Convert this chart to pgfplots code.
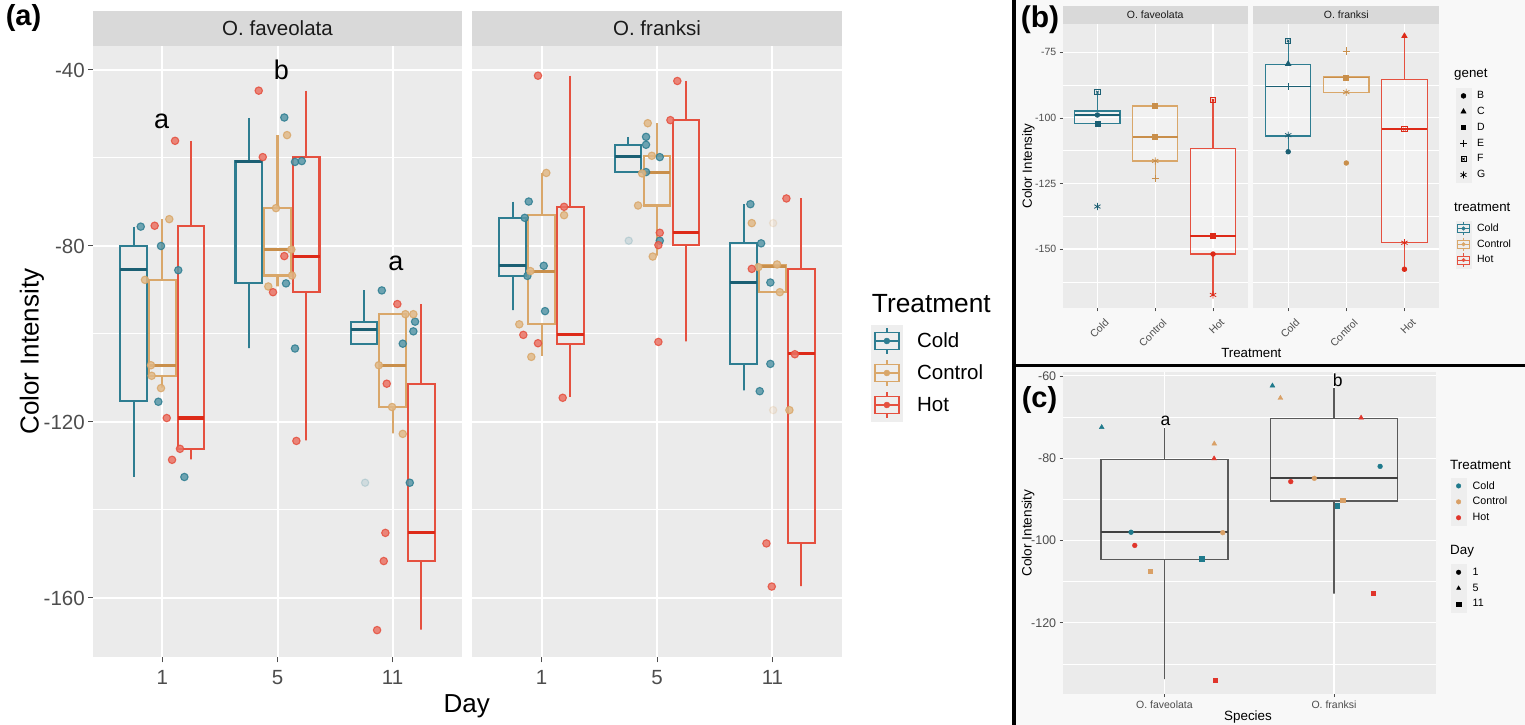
\documentclass[border=0pt]{standalone}
\usepackage{pgfplots}
\pgfplotsset{compat=1.18}
\usepackage{fontspec}
\setmainfont{Liberation Sans}
\newcommand{\fs}[1]{\fontsize{#1}{#1}\selectfont}

\definecolor{cold}{HTML}{2E7D91}
\definecolor{colddk}{HTML}{1B5F73}
\definecolor{ctrl}{HTML}{D9A76A}
\definecolor{ctrldk}{HTML}{C98F4B}
\definecolor{hot}{HTML}{E5503F}
\definecolor{hotdk}{HTML}{DD2A18}
\definecolor{pbg}{HTML}{EBEBEB}
\definecolor{strip}{HTML}{D9D9D9}
\definecolor{stext}{HTML}{1A1A1A}
\definecolor{tickc}{HTML}{4D4D4D}
\definecolor{keybg}{HTML}{EEEEEE}
\definecolor{rbg}{HTML}{F8F8F8}
\definecolor{boxc}{HTML}{595959}
\definecolor{ccold}{HTML}{1F7A8C}
\definecolor{cctrl}{HTML}{D9A066}
\definecolor{chot}{HTML}{E0352B}

\pgfplotsset{
  gg/.style={scale only axis, anchor=south west, axis background/.style={fill=pbg},
    axis line style={draw=none}, tick pos=left, tick align=outside,
    minor tick length=0pt,
    xmajorgrids=true, ymajorgrids=true, yminorgrids=true,
    tick label style={text=tickc},
    /pgf/number format/assume math mode=true, clip=true},
  coldA/.style={draw=cold, line width=2.1pt, line join=miter},
  coldAm/.style={draw=colddk, line width=3.1pt},
  ctrlA/.style={draw=ctrl, line width=2.1pt, line join=miter},
  ctrlAm/.style={draw=ctrldk, line width=3.1pt},
  hotA/.style={draw=hot, line width=2.1pt, line join=miter},
  hotAm/.style={draw=hotdk, line width=3.1pt},
  coldB/.style={draw=cold, line width=1.2pt, line join=miter, fill=white, fill opacity=0.3},
  coldBm/.style={draw=colddk, line width=1.8pt},
  ctrlB/.style={draw=ctrl, line width=1.2pt, line join=miter, fill=white, fill opacity=0.3},
  ctrlBm/.style={draw=ctrldk, line width=1.8pt},
  hotB/.style={draw=hot, line width=1.2pt, line join=miter, fill=white, fill opacity=0.3},
  hotBm/.style={draw=hotdk, line width=1.8pt},
  grC/.style={draw=boxc, line width=1.4pt, line join=miter},
  grCm/.style={draw=black!75, line width=2pt},
  ptA/.style={forget plot, only marks, mark=*, mark size=3.7pt, mark options={draw=#1, fill=#1!80!white, line width=1.1pt}, opacity=0.85},
  ptF/.style={forget plot, only marks, mark=*, mark size=3.7pt, mark options={draw=#1, fill=#1!80!white, line width=1.1pt}, opacity=0.18},
  pb/.style 2 args={forget plot, only marks, mark=#1, color=#2, mark size=2.5pt, mark options={solid, line width=0.8pt}},
  pc/.style 2 args={forget plot, only marks, mark=#1, color=#2, mark size=2.4pt},
  lg/.style 2 args={legend style={at={#1}, anchor=north west, draw=none, fill=none, inner sep=0pt, outer sep=0pt, row sep=0pt, column sep=#2, nodes={inner sep=0pt, text=black}}, legend cell align=left},
  keyA/.style={legend image code/.code={\fill[keybg] (0pt,-15.8pt) rectangle (31.3pt,15.8pt);
     \draw[line width=1.6pt] (15.65pt,8.35pt) -- (15.65pt,12.8pt) (15.65pt,-8.35pt) -- (15.65pt,-12.8pt);
     \draw[line width=1.6pt] (3.65pt,-8.35pt) rectangle (27.65pt,8.35pt) (3.65pt,0pt) -- (27.65pt,0pt);
     \fill (15.65pt,0pt) circle (3pt);}},
  keyB/.style={legend image code/.code={\fill[keybg] (0pt,-7.7pt) rectangle (15.4pt,7.7pt);
     \draw[line width=0.8pt] (7.7pt,4pt) -- (7.7pt,6.6pt) (7.7pt,-4pt) -- (7.7pt,-6.6pt);
     \draw[line width=0.8pt] (2pt,-4pt) rectangle (13.4pt,4pt) (2pt,0pt) -- (13.4pt,0pt);
     \fill (7.7pt,0pt) circle (1.8pt);}},
  keyM/.style 2 args={legend image code/.code={\fill[keybg] (0pt,-7.7pt) rectangle (15.4pt,7.7pt);
     \draw[black, fill=black, line width=0.8pt] plot[only marks, mark=#1, mark size=#2] coordinates {(7.7pt,0pt)};}},
  keyF/.style={legend image code/.code={\fill[keybg] (0pt,-7.7pt) rectangle (15.4pt,7.7pt);
     \draw[black, line width=0.8pt] plot[only marks, mark=square, mark size=2.6pt] coordinates {(7.7pt,0pt)};
     \draw[black, line width=0.8pt] plot[only marks, mark=x, mark size=1.8pt] coordinates {(7.7pt,0pt)};}},
  keyC/.style 2 args={legend image code/.code={\fill[keybg] (0pt,-7.75pt) rectangle (15.5pt,7.75pt);
     \fill[#2] plot[only marks, mark=#1, mark size=2.3pt] coordinates {(7.75pt,0pt)};}},
}
% box with whiskers as one path: x0, centre, x1, lower whisker, q1, median, q3, upper whisker, style
\newcommand{\bx}[9]{%
  \addplot[forget plot, #9] coordinates {(#2,#8) (#2,#7) (#3,#7) (#3,#5) (#2,#5) (#2,#4) (#2,#5) (#1,#5) (#1,#7) (#2,#7)};
  \addplot[forget plot, #9m] coordinates {(#1,#6) (#3,#6)};}

\begin{document}
\begin{tikzpicture}
\useasboundingbox (0pt,0pt) rectangle (1525pt,-725pt);
\fill[white] (0pt,0pt) rectangle (1525pt,-725pt);
\fill[rbg] (1015pt,0pt) rectangle (1525pt,-725pt);

% ---------------- panel (a) ----------------
\fill[strip] (93.3pt,-11pt) rectangle (461.7pt,-46pt);
\fill[strip] (472.3pt,-11pt) rectangle (841.7pt,-46pt);
\node[font=\fs{20.5}, text=stext] at (277.5pt,-28.5pt) {O. faveolata};
\node[font=\fs{20.5}, text=stext] at (657pt,-28.5pt) {O. franksi};

\begin{axis}[gg, at={(93.3pt,-657.3pt)}, width=368.4pt, height=611.3pt,
  xmin=0.4, xmax=3.6, ymin=-173.48, ymax=-34.55,
  xtick={1,2,3}, xticklabels={1,5,11},
  ytick={-160,-120,-80,-40}, yticklabels={-160,-120,-80,-40},
  minor ytick={-140,-100,-60},
  major tick length=5pt, tick style={tickc, line width=1pt},
  major grid style={white, line width=2pt}, minor grid style={white, line width=1pt},
  tick label style={font=\fs{20.5}}, xticklabel style={yshift=-5pt}]
\bx{0.635}{0.75}{0.865}{-132.5}{-115.2}{-85.4}{-80}{-75.6}{coldA}
\bx{0.885}{1}{1.115}{-112.2}{-109.5}{-107.1}{-87.7}{-73.9}{ctrlA}
\bx{1.135}{1.25}{1.365}{-128.5}{-126.1}{-119.1}{-75.4}{-56.1}{hotA}
\bx{1.635}{1.75}{1.865}{-103.2}{-88.5}{-60.8}{-60.7}{-50.9}{coldA}
\bx{1.885}{2}{2.115}{-89.2}{-86.7}{-80.8}{-71.4}{-54.8}{ctrlA}
\bx{2.135}{2.25}{2.365}{-124.2}{-90.4}{-82.3}{-59.8}{-44.7}{hotA}
\bx{2.635}{2.75}{2.865}{-102.2}{-102.2}{-99.0}{-97.2}{-90.1}{coldA}
\bx{2.885}{3}{3.115}{-122.6}{-116.6}{-107.1}{-95.5}{-95.5}{ctrlA}
\bx{3.135}{3.25}{3.365}{-167.2}{-151.5}{-145.1}{-111.4}{-93.2}{hotA}
\addplot[ptA=cold] coordinates {(0.812,-75.6) (0.988,-80) (1.138,-85.5) (0.965,-115.4) (1.191,-132.5) (2.059,-50.8) (2.152,-60.9) (2.211,-60.7) (2.074,-88.5) (2.152,-103.3) (2.906,-90.1) (3.195,-97.2) (3.180,-99.4) (3.088,-102.2) (3.149,-133.8)};
\addplot[ptF=cold] coordinates {(2.761,-133.8)};
\addplot[ptA=ctrl] coordinates {(1.060,-73.9) (0.849,-87.7) (0.901,-107.1) (0.907,-109.5) (0.988,-112.3) (2.083,-54.8) (1.987,-71.4) (2.120,-80.8) (2.126,-86.7) (1.920,-89.2) (3.111,-95.5) (3.180,-95.5) (2.880,-107.1) (2.995,-116.6) (3.088,-122.7)};
\addplot[ptA=hot] coordinates {(1.110,-56.1) (0.933,-75.4) (1.038,-119.1) (1.153,-126.1) (1.084,-128.6) (1.837,-44.7) (1.872,-59.8) (2.059,-82.3) (1.961,-90.5) (2.164,-124.3) (3.041,-93.2) (2.949,-111.3) (2.937,-145.2) (2.923,-151.6) (2.865,-167.3)};
\end{axis}

\begin{axis}[gg, at={(472.3pt,-657.3pt)}, width=369.4pt, height=611.3pt,
  xmin=0.4, xmax=3.6, ymin=-173.48, ymax=-34.55,
  xtick={1,2,3}, xticklabels={1,5,11},
  ytick={-160,-120,-80,-40}, yticklabels={}, ytick style={draw=none},
  minor ytick={-140,-100,-60},
  major tick length=5pt, tick style={tickc, line width=1pt},
  major grid style={white, line width=2pt}, minor grid style={white, line width=1pt},
  tick label style={font=\fs{20.5}}, xticklabel style={yshift=-5pt},
  lg={(1.0793,0.5436)}{14.4pt}, legend style={font=\fs{20.5}}]
\bx{0.635}{0.75}{0.865}{-94.6}{-86.8}{-84.5}{-73.6}{-69.9}{coldA}
\bx{0.885}{1}{1.115}{-105}{-97.8}{-85.7}{-73}{-63.4}{ctrlA}
\bx{1.135}{1.25}{1.365}{-114.3}{-102.3}{-100.1}{-71.1}{-41.3}{hotA}
\bx{1.635}{1.75}{1.865}{-63.2}{-63.2}{-59.6}{-57}{-55.2}{coldA}
\bx{1.885}{2}{2.115}{-82.2}{-70.8}{-63.3}{-59.5}{-52.1}{ctrlA}
\bx{2.135}{2.25}{2.365}{-101.7}{-79.7}{-76.9}{-51.4}{-42.5}{hotA}
\bx{2.635}{2.75}{2.865}{-112.8}{-106.8}{-88.2}{-79.4}{-70.5}{coldA}
\bx{2.885}{3}{3.115}{-90.5}{-90.5}{-84.6}{-84.3}{-84.3}{ctrlA}
\bx{3.135}{3.25}{3.365}{-157.3}{-147.6}{-104.5}{-85.2}{-69.2}{hotA}
\addplot[ptA=cold] coordinates {(0.889,-69.9) (0.854,-73.6) (1.019,-84.5) (0.877,-86.8) (1.030,-94.8) (1.905,-55.2) (1.905,-57) (2.024,-59.8) (1.905,-63.2) (2.024,-78.8) (2.809,-70.5) (2.902,-79.4) (2.982,-88.3) (2.982,-106.8) (2.890,-113)};
\addplot[ptF=cold] coordinates {(1.755,-78.8)};
\addplot[ptA=ctrl] coordinates {(1.041,-63.4) (1.195,-73) (0.903,-85.7) (0.807,-97.8) (0.911,-105.2) (1.920,-52.1) (1.955,-59.5) (1.871,-63.5) (1.836,-70.8) (1.963,-82.4) (2.821,-74.8) (3.040,-84.2) (2.878,-84.8) (3.064,-90.5) (3.147,-117.3)};
\addplot[ptF=ctrl] coordinates {(3.006,-74.8) (3.006,-117.3)};
\addplot[ptA=hot] coordinates {(0.969,-41.3) (1.195,-71.1) (0.842,-100.2) (0.969,-102.1) (1.183,-114.5) (2.176,-42.5) (2.116,-51.4) (2.024,-77) (2.012,-79.8) (2.012,-101.8) (3.121,-69.2) (2.821,-85.2) (3.194,-104.6) (2.948,-147.6) (2.994,-157.4)};
\addlegendimage{cold, keyA}\addlegendentry{Cold}
\addlegendimage{ctrl, keyA}\addlegendentry{Control}
\addlegendimage{hot, keyA}\addlegendentry{Hot}
\end{axis}

\node[rotate=90, font=\fs{26}] at (32pt,-351.6pt) {Color Intensity};
\node[font=\fs{26}] at (466.7pt,-706.7pt) {Day};
\node[font=\fs{29}\bfseries] at (23.5pt,-18.5pt) {(a)};
\node[font=\fs{27}] at (161.7pt,-121.7pt) {a};
\node[font=\fs{27}] at (281.5pt,-70pt) {b};
\node[font=\fs{27}] at (396pt,-263.3pt) {a};
\node[anchor=west, inner sep=0pt, font=\fs{26.3}] at (871.7pt,-303.3pt) {Treatment};

% ---------------- panel (b) ----------------
\fill[strip] (1062.7pt,-5.7pt) rectangle (1247.7pt,-24pt);
\fill[strip] (1253.3pt,-5.7pt) rectangle (1439.3pt,-24pt);
\node[font=\fs{10.5}, text=stext] at (1155.2pt,-14.85pt) {O. faveolata};
\node[font=\fs{10.5}, text=stext] at (1346.3pt,-14.85pt) {O. franksi};

\begin{axis}[gg, at={(1062.7pt,-308.3pt)}, width=185pt, height=284.3pt,
  xmin=0.4, xmax=3.6, ymin=-172.6, ymax=-64.2,
  xtick={1,2,3}, xticklabels={Cold,Control,Hot},
  ytick={-150,-125,-100,-75}, yticklabels={-150,-125,-100,-75},
  minor ytick={-162.5,-137.5,-112.5,-87.5},
  major tick length=3pt, tick style={tickc, line width=0.6pt},
  major grid style={white, line width=1.1pt}, minor grid style={white, line width=0.55pt},
  tick label style={font=\fs{10.5}}, xticklabel style={xshift=12pt, yshift=-7pt, rotate=45, anchor=east},
  lg={(2.1238,0.3085)}{5.7pt}, legend style={font=\fs{10.5}}]
\bx{0.61}{1}{1.39}{-102.1}{-102.1}{-98.9}{-97.4}{-90.2}{coldB}
\bx{1.61}{2}{2.39}{-123}{-116.4}{-107.2}{-95.5}{-95.5}{ctrlB}
\bx{2.61}{3}{3.39}{-167.5}{-151.9}{-145}{-111.6}{-93.2}{hotB}
\addplot[pb={square}{colddk}, mark size=2.7pt] coordinates {(1,-90.2)};
\addplot[pb={x}{colddk}, mark size=1.8pt] coordinates {(1,-90.2)};
\addplot[pb={*}{colddk}, mark size=2.3pt] coordinates {(1,-98.9)};
\addplot[pb={square*}{colddk}] coordinates {(1,-102.1)};
\addplot[pb={asterisk}{colddk}, mark size=3.6pt] coordinates {(1,-133.8)};
\addplot[pb={square*}{ctrldk}] coordinates {(2,-95.5) (2,-107.2)};
\addplot[pb={asterisk}{ctrldk}, mark size=3.6pt] coordinates {(2,-116.4)};
\addplot[pb={+}{ctrldk}, mark size=3.6pt] coordinates {(2,-123)};
\addplot[pb={square}{hotdk}, mark size=2.7pt] coordinates {(3,-93.2)};
\addplot[pb={x}{hotdk}, mark size=1.8pt] coordinates {(3,-93.2)};
\addplot[pb={square*}{hotdk}] coordinates {(3,-145)};
\addplot[pb={*}{hotdk}, mark size=2.3pt] coordinates {(3,-151.9)};
\addplot[pb={asterisk}{hotdk}, mark size=3.6pt] coordinates {(3,-167.5)};
\addlegendimage{cold, keyB}\addlegendentry{Cold}
\addlegendimage{ctrl, keyB}\addlegendentry{Control}
\addlegendimage{hot, keyB}\addlegendentry{Hot}
\end{axis}

\begin{axis}[gg, at={(1253.3pt,-308.3pt)}, width=186pt, height=284.3pt,
  xmin=0.4, xmax=3.6, ymin=-172.6, ymax=-64.2,
  xtick={1,2,3}, xticklabels={Cold,Control,Hot},
  ytick={-150,-125,-100,-75}, yticklabels={}, ytick style={draw=none},
  minor ytick={-162.5,-137.5,-112.5,-87.5},
  major tick length=3pt, tick style={tickc, line width=0.6pt},
  major grid style={white, line width=1.1pt}, minor grid style={white, line width=0.55pt},
  tick label style={font=\fs{10.5}}, xticklabel style={xshift=12pt, yshift=-7pt, rotate=45, anchor=east},
  lg={(1.0876,0.7749)}{5.7pt}, legend style={font=\fs{10.5}}]
\bx{0.61}{1}{1.39}{-112.9}{-106.9}{-88}{-79.5}{-70.6}{coldB}
\bx{1.61}{2}{2.39}{-90.2}{-90.2}{-84.6}{-84.3}{-84.3}{ctrlB}
\bx{2.61}{3}{3.39}{-157.7}{-147.6}{-104.3}{-85.3}{-68.8}{hotB}
\addplot[pb={square}{colddk}, mark size=2.7pt] coordinates {(1,-70.6)};
\addplot[pb={x}{colddk}, mark size=1.8pt] coordinates {(1,-70.6)};
\addplot[pb={triangle*}{colddk}, mark size=3pt] coordinates {(1,-79.4)};
\addplot[pb={+}{colddk}, mark size=3.6pt] coordinates {(1,-88)};
\addplot[pb={asterisk}{colddk}, mark size=3.6pt] coordinates {(1,-106.6)};
\addplot[pb={*}{colddk}, mark size=2.3pt] coordinates {(1,-112.9)};
\addplot[pb={+}{ctrldk}, mark size=3.6pt] coordinates {(2,-74.5)};
\addplot[pb={square*}{ctrldk}] coordinates {(2,-84.6)};
\addplot[pb={asterisk}{ctrldk}, mark size=3.6pt] coordinates {(2,-90.2)};
\addplot[pb={*}{ctrldk}, mark size=2.3pt] coordinates {(2,-117.2)};
\addplot[pb={triangle*}{hotdk}, mark size=3pt] coordinates {(3,-68.8)};
\addplot[pb={square}{hotdk}, mark size=2.7pt] coordinates {(3,-104.3)};
\addplot[pb={x}{hotdk}, mark size=1.8pt] coordinates {(3,-104.3)};
\addplot[pb={asterisk}{hotdk}, mark size=3.6pt] coordinates {(3,-147.6)};
\addplot[pb={*}{hotdk}, mark size=2.3pt] coordinates {(3,-157.7)};
\addlegendimage{keyM={*}{2.3pt}}\addlegendentry{B}
\addlegendimage{keyM={triangle*}{2.8pt}}\addlegendentry{C}
\addlegendimage{keyM={square*}{2.3pt}}\addlegendentry{D}
\addlegendimage{keyM={+}{3.4pt}}\addlegendentry{E}
\addlegendimage{keyF}\addlegendentry{F}
\addlegendimage{keyM={asterisk}{3.4pt}}\addlegendentry{G}
\end{axis}

\node[font=\fs{13.3}] at (1251.3pt,-352.5pt) {Treatment};
\node[rotate=90, font=\fs{13.3}] at (1028.3pt,-166pt) {Color Intensity};
\node[font=\fs{30}\bfseries] at (1040pt,-20pt) {(b)};
\node[anchor=west, inner sep=0pt, font=\fs{13.3}] at (1454pt,-75pt) {genet};
\node[anchor=west, inner sep=0pt, font=\fs{13.3}] at (1454pt,-207.3pt) {treatment};

% ---------------- panel (c) ----------------
\begin{axis}[gg, at={(1062.7pt,-694pt)}, width=373pt, height=322.3pt,
  xmin=0.4, xmax=2.6, ymin=-137.3, ymax=-59.0,
  xtick={1,2}, xticklabels={O. faveolata,O. franksi},
  ytick={-120,-100,-80,-60}, yticklabels={-120,-100,-80,-60},
  minor ytick={-130,-110,-90,-70},
  major tick length=3pt, tick style={tickc, line width=0.6pt},
  major grid style={white, line width=1.1pt}, minor grid style={white, line width=0.55pt},
  xticklabel style={font=\fs{10.5}}, yticklabel style={font=\fs{12.5}},
  lg={(1.040,0.6702)}{6.2pt}, legend style={font=\fs{10.7}}]
\bx{0.625}{1}{1.375}{-133.7}{-104.6}{-98.0}{-80.3}{-72.7}{grC}
\bx{1.625}{2}{2.375}{-112.9}{-90.4}{-84.9}{-70.4}{-62.9}{grC}
\addplot[pc={triangle*}{ccold}, mark size=2.8pt] coordinates {(0.630,-72.5) (1.637,-62.4)};
\addplot[pc={*}{ccold}] coordinates {(0.803,-98.0) (2.272,-82.0)};
\addplot[pc={square*}{ccold}, mark size=2.2pt] coordinates {(1.220,-104.4) (2.020,-91.6)};
\addplot[pc={triangle*}{cctrl}, mark size=2.8pt] coordinates {(1.294,-76.5) (1.684,-65.4)};
\addplot[pc={*}{cctrl}] coordinates {(1.344,-98.1) (1.884,-84.9)};
\addplot[pc={square*}{cctrl}, mark size=2.2pt] coordinates {(0.915,-107.4) (2.052,-90.2)};
\addplot[pc={triangle*}{chot}, mark size=2.8pt] coordinates {(1.293,-80.1) (2.160,-70.2)};
\addplot[pc={*}{chot}] coordinates {(0.825,-101.2) (1.745,-85.7)};
\addplot[pc={square*}{chot}, mark size=2.2pt] coordinates {(1.299,-133.9) (2.232,-112.8)};
\addlegendimage{keyC={*}{ccold}}\addlegendentry{Cold}
\addlegendimage{keyC={*}{cctrl}}\addlegendentry{Control}
\addlegendimage{keyC={*}{chot}}\addlegendentry{Hot}
\end{axis}
\begin{axis}[scale only axis, anchor=south west, at={(1062.7pt,-694pt)}, width=373pt, height=322.3pt,
  hide axis, xmin=0, xmax=1, ymin=0, ymax=1,
  lg={(1.040,0.4024)}{6.2pt}, legend style={font=\fs{10.7}}]
\addlegendimage{keyC={*}{black}}\addlegendentry{1}
\addlegendimage{keyC={triangle*}{black}}\addlegendentry{5}
\addlegendimage{keyC={square*}{black}}\addlegendentry{11}
\end{axis}

\node[font=\fs{17.5}] at (1165.5pt,-421pt) {a};
\node[font=\fs{17.5}] at (1337.6pt,-380pt) {b};
\node[font=\fs{13.4}] at (1248pt,-717pt) {Species};
\node[rotate=90, font=\fs{13.6}] at (1028pt,-533pt) {Color Intensity};
\node[font=\fs{29}\bfseries] at (1039.5pt,-400pt) {(c)};
\node[anchor=west, inner sep=0pt, font=\fs{13.4}] at (1450pt,-465pt) {Treatment};
\node[anchor=west, inner sep=0pt, font=\fs{13.4}] at (1450pt,-551pt) {Day};

% separators
\draw[black, line width=3.5pt] (1014pt,0pt) -- (1014pt,-725pt);
\draw[black, line width=3pt] (1012pt,-365.8pt) -- (1525pt,-365.8pt);
\end{tikzpicture}
\end{document}
